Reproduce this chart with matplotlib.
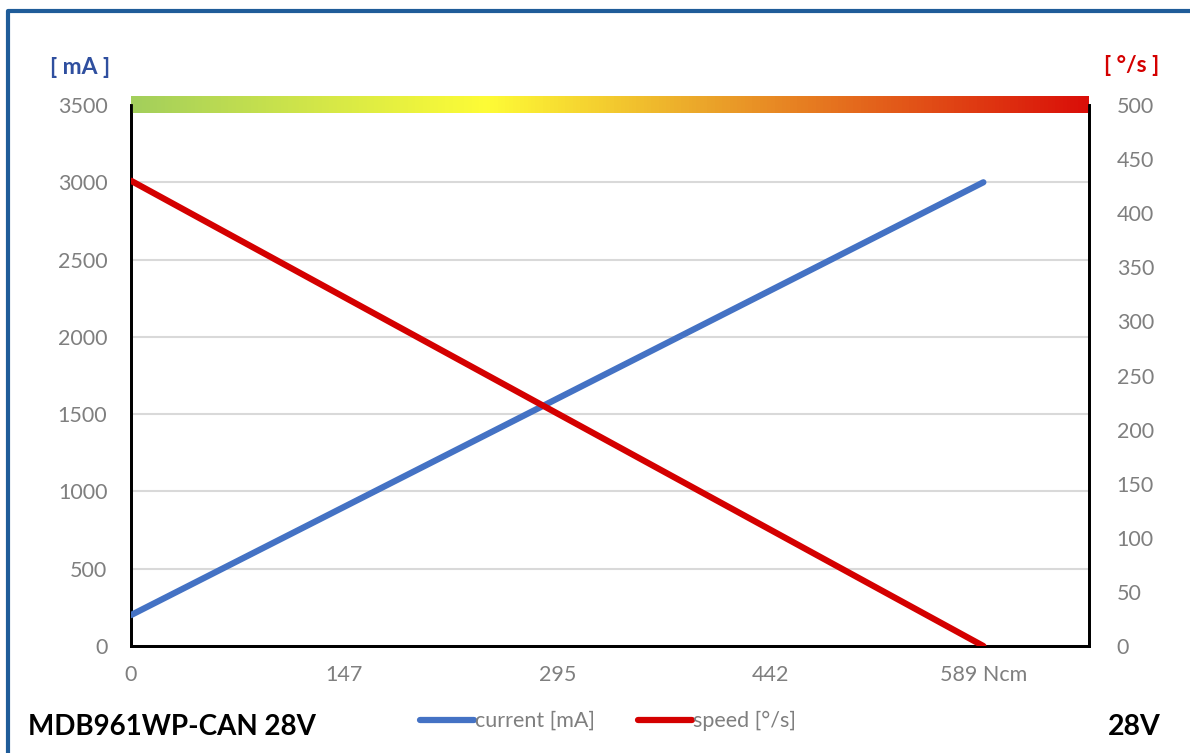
import matplotlib.pyplot as plt
import numpy as np
from matplotlib.colors import LinearSegmentedColormap
from matplotlib.lines import Line2D

# torque [Ncm] and the two measured curves
torque = [0, 589]
current = [200, 3000]      # mA
speed = [430, 0]           # deg/s
xtick_vals = [0, 147, 295, 442, 589]
xtick_labels = ["0", "147", "295", "442", "589 Ncm"]

plt.rcParams["font.family"] = ["Lato", "DejaVu Sans"]
grey = "#7f7f7f"

fig = plt.figure(figsize=(11.9, 7.53), dpi=100)
ax = fig.add_axes([131 / 1190, 1 - 646 / 753, (1089 - 131) / 1190, (646 - 105) / 753])
ax2 = ax.twinx()

ax.set_xlim(0, 662)
ax.set_ylim(0, 3500)
ax2.set_ylim(0, 500)
ax.set_yticks(np.arange(0, 3501, 500))
ax2.set_yticks(np.arange(0, 501, 50))
ax.set_xticks(xtick_vals)
ax.set_xticklabels(xtick_labels)
ax.grid(axis="y", color="#d9d9d9", lw=1.5)
ax.set_axisbelow(True)

for a in (ax, ax2):
    a.tick_params(length=0, labelsize=15.5, labelcolor=grey, pad=17)
    a.spines["top"].set_visible(False)
    for s in ("left", "right", "bottom"):
        a.spines[s].set_linewidth(2)
        a.spines[s].set_color("black")
ax.tick_params(axis="x", pad=14)
ax2.tick_params(pad=20)

# gradient bar across the top of the plot
cmap = LinearSegmentedColormap.from_list(
    "bar", [(0, "#a3cf5c"), (0.37, "#fefc36"), (0.6, "#eba52a"), (1, "#da0e08")])
bar = ax.imshow(np.linspace(0, 1, 256).reshape(1, -1), cmap=cmap, aspect="auto",
                extent=[0, 662, 3447, 3553], zorder=5)
bar.set_clip_on(False)

l1, = ax2.plot(torque, [c / 7 for c in current], color="#4472c4", lw=4.5,
               solid_capstyle="round", zorder=3, label="current [mA]")
l2, = ax2.plot(torque, speed, color="#d40000", lw=4.5,
               solid_capstyle="round", zorder=4, label="speed [°/s]")

fig.legend(handles=[l1, l2], loc="center", bbox_to_anchor=(0.511, 1 - 721 / 753),
           ncol=2, frameon=False, fontsize=15.5, labelcolor=grey,
           handlelength=2.5, handletextpad=0.05, columnspacing=2.0)

fig.text(50 / 1190, 1 - 67 / 753, "[ mA ]", color="#2f4f9f", fontsize=16.5,
         fontweight="bold", va="center")
fig.text(1104 / 1190, 1 - 65 / 753, "[ °/s ]", color="#d40000", fontsize=16.5,
         fontweight="bold", va="center")
fig.text(28 / 1190, 1 - 727 / 753, "MDB961WP-CAN 28V", fontsize=20,
         fontweight="bold", va="center")
fig.text(1108 / 1190, 1 - 727 / 753, "28V", fontsize=20.5, fontweight="bold", va="center")

# blue frame around the chart
fig.add_artist(Line2D([8 / 1190, 8 / 1190, 1.0], [0, 1 - 11 / 753, 1 - 11 / 753],
                      color="#1f5c99", lw=3))

fig.savefig("out.png", dpi=100)
